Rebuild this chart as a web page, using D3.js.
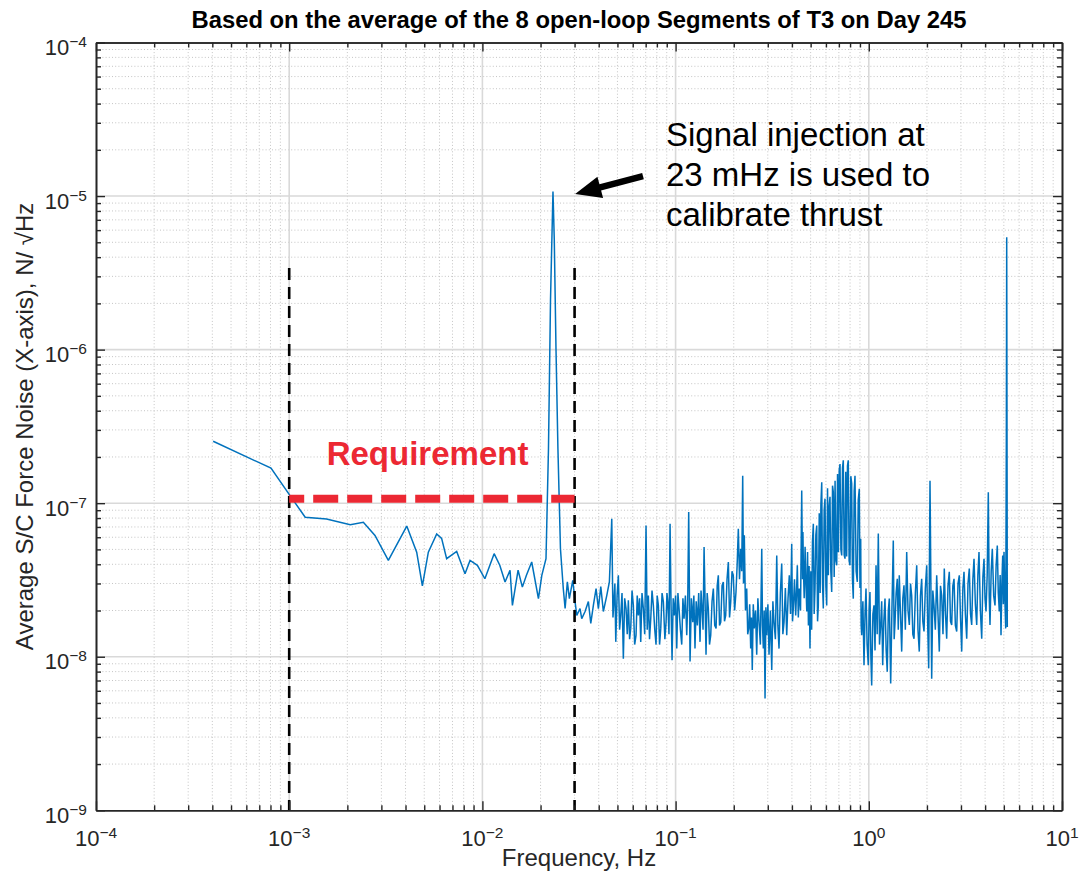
<!DOCTYPE html>
<html>
<head>
<meta charset="utf-8">
<script src="https://cdn.jsdelivr.net/npm/d3@7"></script>
<style>
  body { margin: 0; background: #fff; }
  text { font-family: "Liberation Sans", Arial, Helvetica, sans-serif; }
</style>
</head>
<body>
<svg id="chart" width="1080" height="882"></svg>
<script>
// spectrum as [frequency Hz, force noise in units of 1e-8 N/√Hz]
const smoothPart = [
  [4.04e-4, 25.3], [8.05e-4, 16.9], [1.01e-3, 11.2], [1.21e-3, 8.1], [1.56e-3, 7.9],
  [2.07e-3, 7.25], [2.42e-3, 7.5], [2.78e-3, 6.17], [3.26e-3, 4.24], [4.06e-3, 7.1],
  [4.57e-3, 4.8], [4.89e-3, 2.89], [5.25e-3, 4.8], [5.80e-3, 6.3], [6.15e-3, 5.9],
  [6.53e-3, 4.35], [7.36e-3, 4.85], [8.13e-3, 3.47], [8.63e-3, 4.24], [9.42e-3, 3.94],
  [0.0103, 3.22], [0.0115, 4.69], [0.0123, 3.94], [0.0131, 3.07], [0.0139, 3.66],
  [0.0143, 2.16], [0.0153, 3.66], [0.0161, 2.84], [0.0169, 3.39], [0.0180, 4.14],
  [0.0195, 2.39], [0.0203, 3.39]
]
const injectionPeak = [
  [0.02134, 4.35], [0.02198, 22.6], [0.02252, 213], [0.02319, 1070], [0.02355, 524],
  [0.02404, 101], [0.02460, 22.6], [0.02535, 5.05], [0.02622, 2.78]
]
const midBand = [
  [0.02680, 2.06], [0.02753, 3.08], [0.02819, 2.39], [0.02936, 3.14], [0.03017, 2.29],
  [0.03079, 1.86], [0.03201, 2.06], [0.03267, 1.77], [0.03399, 1.97], [0.03536, 2.29],
  [0.03639, 1.65], [0.03753, 2.16], [0.03876, 2.78], [0.03984, 2.06], [0.04100, 2.86],
  [0.04227, 1.97], [0.04402, 2.50], [0.04542, 3.07], [0.04673, 7.92], [0.0474, 1.8],
  [0.04803, 2.39], [0.0485, 3.0], [0.04901, 1.25], [0.0498, 2.5], [0.05055, 3.39],
  [0.0513, 1.5], [0.05201, 1.86], [0.0528, 2.6], [0.05365, 0.97], [0.0545, 2.4],
  [0.05540, 2.06], [0.0562, 1.4], [0.05694, 2.33], [0.0578, 1.3], [0.05859, 1.53],
  [0.0595, 2.7], [0.06043, 2.16], [0.0614, 1.2], [0.06241, 1.38], [0.0633, 2.5],
  [0.06414, 1.86], [0.0651, 2.4], [0.06600, 1.25], [0.0670, 2.6], [0.06808, 2.06],
  [0.0692, 1.4], [0.07030, 7.16], [0.0713, 1.5], [0.07228, 2.50], [0.0733, 1.3],
  [0.07437, 1.77], [0.0755, 2.7], [0.07670, 2.16], [0.0780, 1.5], [0.07921, 1.20],
  [0.0803, 2.5], [0.08143, 2.16], [0.0826, 1.2], [0.08379, 1.53], [0.0851, 2.6],
  [0.08644, 2.28], [0.0880, 1.3], [0.08927, 1.68], [0.0902, 2.6], [0.09110, 2.28],
  [0.0924, 1.4], [0.09363, 7.35], [0.0947, 2.2], [0.09585, 0.95], [0.0972, 2.4],
  [0.09851, 1.86], [0.1000, 2.5], [0.1014, 1.13], [0.1028, 2.6], [0.1042, 2.06],
  [0.1059, 1.5], [0.1076, 1.20], [0.1091, 2.4], [0.1106, 1.77], [0.1124, 2.5],
  [0.1142, 1.38], [0.1155, 2.2], [0.1169, 8.75], [0.1188, 0.93], [0.1207, 2.4],
  [0.1227, 1.68], [0.1243, 2.5], [0.1260, 1.13], [0.1278, 2.3], [0.1296, 1.60],
  [0.1317, 2.6], [0.1338, 1.25], [0.1354, 2.7], [0.1370, 2.06], [0.1387, 1.5],
  [0.1404, 5.18], [0.1420, 2.4], [0.1437, 1.03], [0.1457, 2.6], [0.1477, 2.06],
  [0.1498, 1.2], [0.1520, 1.38], [0.1544, 2.3], [0.1568, 2.78], [0.1594, 1.6],
  [0.1620, 1.53], [0.1642, 2.9], [0.1664, 3.39], [0.1688, 1.6], [0.1713, 1.68],
  [0.1740, 2.9], [0.1766, 3.07], [0.1791, 1.7], [0.1817, 1.86], [0.1846, 3.2],
  [0.1875, 4.14], [0.1902, 1.8], [0.1929, 2.28], [0.1959, 3.6], [0.1989, 3.39],
  [0.2021, 2.0], [0.2054, 2.64], [0.2083, 4.0], [0.2112, 6.82], [0.2142, 3.2],
  [0.2173, 5.05], [0.2199, 3.6], [0.2225, 15.1], [0.2246, 3.0], [0.2268, 6.17],
  [0.2300, 2.0], [0.2334, 2.78], [0.2362, 1.4], [0.2390, 1.53], [0.2418, 2.2],
  [0.2447, 1.13], [0.2470, 1.8], [0.2494, 0.82], [0.2524, 2.2], [0.2555, 1.53],
  [0.2592, 2.0], [0.2629, 1.03], [0.2666, 2.4], [0.2703, 1.68], [0.2747, 1.2],
  [0.2792, 5.05], [0.2818, 1.6], [0.2845, 1.13], [0.2874, 2.0], [0.2904, 0.535],
  [0.2933, 2.1], [0.2963, 1.38], [0.3004, 2.2], [0.3045, 1.03], [0.3095, 2.0],
  [0.3145, 0.82], [0.3188, 2.3], [0.3232, 1.68], [0.3285, 1.3], [0.3338, 4.57],
  [0.3384, 1.6], [0.3430, 1.13], [0.3486, 2.6], [0.3542, 4.04], [0.3591, 1.4],
  [0.3641, 1.68], [0.3700, 2.8], [0.3760, 1.38], [0.3819, 2.4], [0.3878, 3.39],
  [0.3934, 1.9], [0.3990, 5.44], [0.4028, 1.7], [0.4067, 2.06], [0.4125, 3.2],
  [0.4184, 1.86], [0.4225, 2.6], [0.4266, 3.94], [0.4317, 1.8], [0.4369, 2.78],
  [0.4432, 2.0], [0.4496, 12.1]
]
const humpBand = [
  [0.4540, 3.2], [0.4560, 6.5], [0.4585, 3.94], [0.4630, 2.4], [0.4680, 5.2],
  [0.4730, 2.9], [0.4775, 1.97], [0.4820, 4.8], [0.4870, 1.6], [0.4910, 3.9],
  [0.4961, 1.13], [0.5010, 3.6], [0.5060, 1.5], [0.5110, 5.6], [0.5163, 7.35],
  [0.5215, 1.9], [0.5267, 2.78], [0.5320, 6.2], [0.5377, 7.16], [0.5430, 1.7],
  [0.5480, 2.16], [0.5540, 8.6], [0.5600, 2.6], [0.5650, 9.8], [0.5707, 13.7],
  [0.5760, 3.0], [0.5815, 2.06], [0.5875, 9.0], [0.5934, 10.7], [0.5995, 2.9],
  [0.6055, 2.16], [0.6115, 12.5], [0.6175, 3.4], [0.6235, 9.5], [0.6297, 11.0],
  [0.6360, 3.6], [0.6427, 2.64], [0.6490, 13.0], [0.6551, 11.8], [0.6620, 3.3],
  [0.6690, 14.0], [0.6755, 4.2], [0.6823, 3.94], [0.6890, 15.5], [0.6960, 4.8],
  [0.7030, 16.5], [0.7096, 18.0], [0.7170, 5.0], [0.7241, 4.57], [0.7310, 17.0],
  [0.7379, 19.0], [0.7455, 4.6], [0.7530, 4.35], [0.7600, 16.0], [0.7680, 4.5],
  [0.7755, 17.5], [0.7831, 19.0], [0.7910, 4.2], [0.7991, 3.94], [0.8070, 15.0],
  [0.8154, 13.4], [0.8230, 3.2], [0.8312, 2.39], [0.8400, 12.0], [0.8483, 15.1],
  [0.8600, 3.6], [0.8720, 3.07], [0.8820, 10.5], [0.8929, 12.4], [0.9000, 2.8],
  [0.9080, 5.87], [0.9130, 1.6], [0.9190, 1.38]
]
const highBand = [
  [0.9320, 2.3], [0.9445, 0.88], [0.9560, 1.9], [0.9672, 2.78], [0.9800, 1.2],
  [0.9940, 0.88], [1.004, 2.0], [1.014, 2.64], [1.025, 1.0], [1.035, 0.65],
  [1.050, 1.9], [1.064, 2.16], [1.077, 1.1], [1.090, 3.94], [1.105, 1.4],
  [1.120, 6.34], [1.136, 1.2], [1.152, 1.61], [1.166, 2.3], [1.180, 0.88],
  [1.196, 1.7], [1.213, 2.39], [1.230, 1.1], [1.246, 0.80], [1.262, 2.0],
  [1.277, 2.39], [1.288, 1.2], [1.298, 0.67], [1.318, 2.1], [1.339, 5.72],
  [1.353, 1.3], [1.367, 1.68], [1.385, 2.6], [1.404, 3.22], [1.421, 1.5],
  [1.438, 3.39], [1.459, 1.9], [1.480, 1.08], [1.500, 2.4], [1.521, 2.92],
  [1.546, 1.5], [1.571, 4.81], [1.596, 2.0], [1.621, 1.61], [1.644, 3.0],
  [1.667, 2.50], [1.690, 1.4], [1.714, 1.31], [1.742, 2.6], [1.770, 3.94],
  [1.797, 1.5], [1.825, 1.08], [1.851, 2.5], [1.878, 3.22], [1.904, 1.7],
  [1.931, 1.46], [1.962, 2.8], [1.994, 3.94], [2.018, 1.6], [2.042, 0.84],
  [2.074, 14.0], [2.116, 0.72], [2.145, 2.7], [2.175, 2.16], [2.210, 1.5],
  [2.246, 3.39], [2.281, 1.9], [2.317, 1.08], [2.350, 2.9], [2.384, 2.50],
  [2.421, 1.4], [2.459, 3.75], [2.494, 1.9], [2.530, 1.31], [2.570, 2.9],
  [2.610, 3.57], [2.648, 1.7], [2.686, 1.61], [2.723, 2.9], [2.761, 3.22],
  [2.806, 1.6], [2.851, 1.46], [2.896, 3.0], [2.941, 3.39], [2.983, 1.8],
  [3.026, 1.08], [3.068, 2.8], [3.110, 3.57], [3.161, 1.9], [3.212, 1.31],
  [3.262, 3.0], [3.313, 3.75], [3.361, 1.9], [3.409, 1.61], [3.456, 3.2],
  [3.504, 4.35], [3.561, 2.2], [3.619, 1.61], [3.669, 3.4], [3.719, 4.81],
  [3.780, 2.0], [3.841, 1.31], [3.895, 3.3], [3.948, 4.35], [3.995, 2.4],
  [4.043, 1.97], [4.100, 3.4], [4.155, 11.8], [4.200, 2.5], [4.240, 1.61],
  [4.300, 3.6], [4.358, 5.05], [4.430, 2.5], [4.500, 2.16], [4.560, 3.9],
  [4.625, 5.30], [4.680, 2.6], [4.737, 1.97], [4.785, 3.4], [4.834, 1.38],
  [4.883, 3.0], [4.933, 4.57], [4.970, 2.2], [5.010, 4.81], [5.060, 2.4],
  [5.112, 1.53], [5.150, 24.3], [5.174, 540], [5.211, 1.56]
]

const xMajor = [1e-4, 1e-3, 1e-2, 1e-1, 1, 10]
const yMajor = [1e-9, 1e-8, 1e-7, 1e-6, 1e-5, 1e-4]
const xTickExp = ['\u22124', '\u22123', '\u22122', '\u22121', '0', '1']
const yTickExp = ['\u22129', '\u22128', '\u22127', '\u22126', '\u22125', '\u22124']

const requirementLevel = 1.07e-7
const requirementBand = [1e-3, 3e-2]
const bandMarkerTop = 3.4e-6

const titleText = 'Based on the average of the 8 open-loop Segments of T3 on Day 245'
const xLabel = 'Frequency, Hz'
const yLabel = 'Average S/C Force Noise (X-axis), N/ \u221AHz'
const noteLines = ['Signal injection at', '23 mHz is used to', 'calibrate thrust']

const width = 1080, height = 882
const margin = {top: 42.5, right: 18, bottom: 71.7, left: 96}
const axisColor = '#262626'

const svg = d3.select('#chart')

const x = d3.scaleLog().domain([1e-4, 10]).range([margin.left, width - margin.right])
const y = d3.scaleLog().domain([1e-9, 1e-4]).range([height - margin.bottom, margin.top])
const [x0, x1] = x.range()
const [y0, y1] = y.range()

const minorOf = majors => majors.slice(0, -1).flatMap(m => d3.range(2, 10).map(k => k * m))
const xMinor = minorOf(xMajor)
const yMinor = minorOf(yMajor)

// grid
const grid = svg.append('g')
grid.selectAll('.vminor').data(xMinor).join('line')
  .attr('x1', d => x(d)).attr('x2', d => x(d)).attr('y1', y1).attr('y2', y0)
  .attr('stroke', '#c4c4c4').attr('stroke-width', 1).attr('stroke-dasharray', '1,2.2')
grid.selectAll('.hminor').data(yMinor).join('line')
  .attr('y1', d => y(d)).attr('y2', d => y(d)).attr('x1', x0).attr('x2', x1)
  .attr('stroke', '#c4c4c4').attr('stroke-width', 1).attr('stroke-dasharray', '1,2.2')
grid.selectAll('.vmajor').data(xMajor.slice(1, -1)).join('line')
  .attr('x1', d => x(d)).attr('x2', d => x(d)).attr('y1', y1).attr('y2', y0)
  .attr('stroke', '#d9d9d9').attr('stroke-width', 1.6)
grid.selectAll('.hmajor').data(yMajor.slice(1, -1)).join('line')
  .attr('y1', d => y(d)).attr('y2', d => y(d)).attr('x1', x0).attr('x2', x1)
  .attr('stroke', '#d9d9d9').attr('stroke-width', 1.6)

// spectrum
const spectrum = [...smoothPart, ...injectionPeak, ...midBand, ...humpBand, ...highBand]
  .map(([f, v]) => ({f, v: v * 1e-8}))
const line = d3.line().x(d => x(d.f)).y(d => y(d.v))
svg.append('path')
  .datum(spectrum)
  .attr('d', line)
  .attr('fill', 'none')
  .attr('stroke', '#0072BD')
  .attr('stroke-width', 1.5)
  .attr('stroke-linejoin', 'miter')
  .attr('stroke-miterlimit', 2)

// band markers
svg.selectAll('.band').data(requirementBand).join('line')
  .attr('x1', d => x(d)).attr('x2', d => x(d))
  .attr('y1', y(bandMarkerTop)).attr('y2', y0)
  .attr('stroke', '#000').attr('stroke-width', 2.6).attr('stroke-dasharray', '12,7')

// requirement
svg.append('line')
  .attr('x1', x(requirementBand[0])).attr('x2', x(requirementBand[1]))
  .attr('y1', y(requirementLevel)).attr('y2', y(requirementLevel))
  .attr('stroke', '#ec2833').attr('stroke-width', 8)
  .attr('stroke-dasharray', '25,9').attr('stroke-dashoffset', 10)

svg.append('text')
  .attr('x', x(5.2e-3)).attr('y', y(1.76e-7))
  .attr('text-anchor', 'middle')
  .attr('font-size', 33).attr('font-weight', 'bold')
  .attr('fill', '#ec2833')
  .text('Requirement')

// axes box with inward ticks
const axes = svg.append('g').attr('color', axisColor)
const addAxis = (axisFn, scale, values, size, tr) => {
  const g = axes.append('g').attr('transform', tr)
    .call(axisFn(scale).tickValues(values).tickSize(-size).tickSizeOuter(0).tickFormat(''))
  g.select('.domain').attr('stroke-width', 1.6)
  g.selectAll('.tick line').attr('stroke-width', 1.4)
}
addAxis(d3.axisBottom, x, xMajor, 9, `translate(0,${y0})`)
addAxis(d3.axisBottom, x, xMinor, 5, `translate(0,${y0})`)
addAxis(d3.axisTop, x, xMajor, 9, `translate(0,${y1})`)
addAxis(d3.axisTop, x, xMinor, 5, `translate(0,${y1})`)
addAxis(d3.axisLeft, y, yMajor, 9, `translate(${x0},0)`)
addAxis(d3.axisLeft, y, yMinor, 5, `translate(${x0},0)`)
addAxis(d3.axisRight, y, yMajor, 9, `translate(${x1},0)`)
addAxis(d3.axisRight, y, yMinor, 5, `translate(${x1},0)`)

// tick labels 10^n
const xl = svg.append('g').selectAll('text').data(xMajor).join('text')
  .attr('x', d => x(d)).attr('y', y0 + 36)
  .attr('text-anchor', 'middle').attr('font-size', 22).attr('fill', axisColor)
xl.append('tspan').text('10')
xl.append('tspan').attr('dy', -8).attr('font-size', 15.5).text((d, i) => xTickExp[i])

const yl = svg.append('g').selectAll('text').data(yMajor).join('text')
  .attr('x', x0 - 9).attr('y', d => y(d) + 12.5)
  .attr('text-anchor', 'end').attr('font-size', 22).attr('fill', axisColor)
yl.append('tspan').text('10')
yl.append('tspan').attr('dy', -8).attr('font-size', 15.5).text((d, i) => yTickExp[i])

// titles
svg.append('text')
  .attr('x', (x0 + x1) / 2).attr('y', 28)
  .attr('text-anchor', 'middle').attr('font-size', 23.8).attr('font-weight', 'bold')
  .attr('fill', '#000')
  .text(titleText)

svg.append('text')
  .attr('x', (x0 + x1) / 2).attr('y', 866)
  .attr('text-anchor', 'middle').attr('font-size', 24).attr('fill', axisColor)
  .text(xLabel)

svg.append('text')
  .attr('transform', `translate(33,${(y0 + y1) / 2}) rotate(-90)`)
  .attr('text-anchor', 'middle').attr('font-size', 24).attr('fill', axisColor)
  .text(yLabel)

// annotation arrow and note
const tip = [x(0.0302), y(1.03e-5)]
const tail = [x(0.0678), y(1.35e-5)]
const ang = Math.atan2(tip[1] - tail[1], tip[0] - tail[0])
const headLen = 26, headHalf = 11
const base = [tip[0] - headLen * Math.cos(ang), tip[1] - headLen * Math.sin(ang)]
svg.append('line')
  .attr('x1', tail[0]).attr('y1', tail[1]).attr('x2', base[0] + 2 * Math.cos(ang)).attr('y2', base[1] + 2 * Math.sin(ang))
  .attr('stroke', '#000').attr('stroke-width', 6.5)
svg.append('path')
  .attr('d', d3.line()([
    tip,
    [base[0] + headHalf * Math.sin(ang), base[1] - headHalf * Math.cos(ang)],
    [base[0] - headHalf * Math.sin(ang), base[1] + headHalf * Math.cos(ang)]
  ]) + 'Z')
  .attr('fill', '#000')

svg.append('text')
  .attr('x', x(0.0892)).attr('y', y(2.12e-5))
  .attr('font-size', 33).attr('fill', '#000')
  .selectAll('tspan').data(noteLines).join('tspan')
  .attr('x', x(0.0892)).attr('dy', (d, i) => i === 0 ? 0 : 40)
  .text(d => d)
</script>
</body>
</html>
